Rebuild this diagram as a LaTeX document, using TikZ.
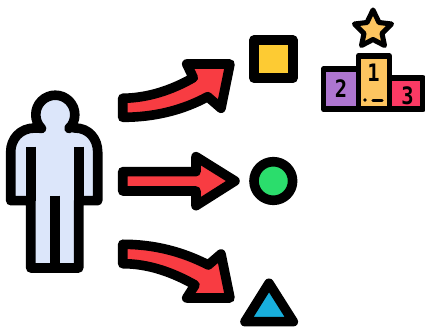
\documentclass[tikz,border=0pt]{standalone}
\usepackage{fontspec}
\newfontfamily\digitfont{DejaVu Sans Mono}
\definecolor{bodyblue}{HTML}{DCE6FA}
\definecolor{arrowred}{HTML}{F83C42}
\definecolor{squareyellow}{HTML}{FDCB33}
\definecolor{circlegreen}{HTML}{2BDD6C}
\definecolor{triblue}{HTML}{18AFDD}
\definecolor{podpurple}{HTML}{AE76D0}
\definecolor{podorange}{HTML}{FDC560}
\definecolor{podred}{HTML}{FB3A64}
\tikzset{
  thick outline/.style={draw=black,line width=7.2pt,line join=round,line cap=round},
  thin outline/.style={draw=black,line width=3pt,line join=round,line cap=round},
  digit/.style={font=\digitfont\bfseries\fontsize{18}{18}\selectfont,inner sep=0pt,text=black,xscale=0.85}
}
\begin{document}
\begin{tikzpicture}[x=0.75pt,y=-0.75pt]
\useasboundingbox (0,0) rectangle (425,327);
% person
\path[thick outline,fill=bodyblue]
  (41.5,128.5) arc[start angle=225,end angle=-45,x radius=19.5,y radius=-19.5]
  .. controls (69,126) and (72,128) .. (75,128)
  .. controls (89,128) and (97.7,139) .. (97.7,152)
  -- (97.7,200.7) -- (78.7,200.7) -- (78.7,268) -- (30.7,268) -- (30.7,200.7)
  -- (10.7,200.7) -- (10.7,152)
  .. controls (10.7,139) and (20,128) .. (35,128)
  .. controls (38,128) and (40,128) .. (41.5,128.5) -- cycle;
\draw[thick outline,line cap=butt] (30.7,146.7) -- (30.7,200.7);
\draw[thick outline,line cap=butt] (78.7,146.7) -- (78.7,200.7);
\draw[thick outline,line cap=butt] (54.7,195.7) -- (54.7,268);
% arrows
\path[thick outline,fill=arrowred]
  (122.7,98.3) .. controls (148,98) and (172,90) .. (193.3,77.7)
  -- (186.7,64) -- (230,64) -- (221,108.3) -- (207.7,96.7)
  .. controls (183,110) and (155,117.3) .. (122.7,117.3) -- cycle;
\path[thick outline,fill=arrowred]
  (122.7,171.7) -- (196,171.7) -- (196,156.7) -- (235,181) -- (196,205.7) -- (196,191) -- (122.7,191) -- cycle;
\path[thick outline,fill=arrowred]
  (122.7,244.3) .. controls (155,244.3) and (183,252) .. (208.3,265)
  -- (221,254) -- (230,298) -- (186.7,298) -- (195,285)
  .. controls (172,272) and (148,263.7) .. (122.7,263.7) -- cycle;
% shapes
\path[thick outline,fill=squareyellow] (254,40) rectangle (292.7,78.3);
\path[thick outline,fill=circlegreen] (273.3,181) circle[radius=19.3];
\path[thick outline,fill=triblue] (269,283.3) -- (293.3,321.7) -- (245,321.7) -- cycle;
% star
\path[thin outline,line width=3.8pt,fill=podorange]
  (373,10) -- (379,22.5) -- (391.5,24) -- (382,33.5) -- (384.5,45.5) -- (373,39.5)
  -- (361.5,45.5) -- (364,33.5) -- (354.5,24) -- (367,22.5) -- cycle;
% podium
\path[thin outline,line width=4.2pt,fill=podpurple] (323.5,69) rectangle (358.3,109.3);
\path[thin outline,line width=4.2pt,fill=podred] (389.3,78.3) rectangle (423,109.3);
\path[thin outline,line width=4.2pt,fill=podorange] (358.3,56) rectangle (389.3,109.3);
\node[digit] (two) at (341,89) {2};
\node[digit] (one) at (373.5,73) {1};
\node[digit] (three) at (407.5,96) {3};
\fill[black] (365,100) circle[radius=1.8];
\draw[black,line width=2.6pt,line cap=round] (373,100.7) -- (382,100.7);
\end{tikzpicture}
\end{document}
